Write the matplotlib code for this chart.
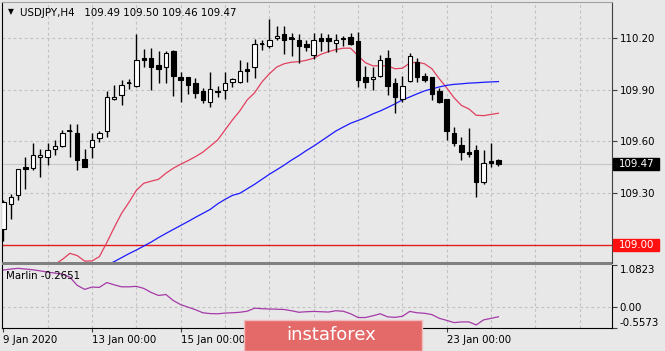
import numpy as np
import matplotlib.pyplot as plt
from matplotlib.patches import Rectangle
from matplotlib.transforms import blended_transform_factory

# --- DATA (USDJPY H4, one candle per index, 9 Jan 00:00 -> 24 Jan 04:00) ---
opens = [109.094, 109.236, 109.288, 109.453, 109.449, 109.509, 109.509, 109.559, 109.575, 109.661,
         109.650, 109.501, 109.569, 109.617, 109.660, 109.844, 109.867, 109.939, 109.923, 110.082,
         110.082, 110.039, 110.028, 110.120, 109.971, 109.971, 109.940, 109.894, 109.830, 109.894,
         109.898, 109.944, 109.946, 110.011, 110.028, 110.166, 110.150, 110.196, 110.220, 110.195,
         110.188, 110.165, 110.101, 110.198, 110.198, 110.167, 110.200, 110.204, 110.179, 109.973,
         109.960, 109.979, 110.082, 109.937, 109.844, 109.948, 110.062, 109.979, 109.971, 109.894,
         109.844, 109.650, 109.578, 109.538, 109.549, 109.365, 109.489, 109.490]
highs = [109.260, 109.294, 109.443, 109.511, 109.588, 109.559, 109.588, 109.607, 109.666, 109.698,
         109.698, 109.559, 109.646, 109.660, 109.892, 109.927, 109.956, 109.960, 110.223, 110.134,
         110.140, 110.120, 110.120, 110.126, 110.004, 109.971, 109.966, 109.908, 110.004, 109.921,
         110.000, 109.966, 110.072, 110.062, 110.192, 110.188, 110.305, 110.270, 110.266, 110.227,
         110.221, 110.188, 110.227, 110.227, 110.221, 110.221, 110.207, 110.227, 110.233, 110.035,
         110.033, 110.101, 110.130, 109.966, 109.979, 110.111, 110.082, 109.995, 109.975, 109.907,
         109.844, 109.685, 109.627, 109.675, 109.578, 109.549, 109.592, 109.500]
lows = [109.027, 109.152, 109.259, 109.327, 109.437, 109.395, 109.466, 109.520, 109.569, 109.511,
        109.437, 109.453, 109.507, 109.598, 109.627, 109.840, 109.811, 109.902, 109.917, 110.028,
        109.898, 109.937, 109.937, 109.863, 109.830, 109.875, 109.849, 109.820, 109.797, 109.855,
        109.844, 109.917, 109.937, 109.946, 109.966, 110.130, 110.142, 110.188, 110.105, 110.091,
        110.053, 110.124, 110.078, 110.124, 110.115, 110.117, 110.150, 110.159, 109.917, 109.907,
        109.898, 109.971, 109.869, 109.762, 109.830, 109.946, 109.946, 109.946, 109.840, 109.824,
        109.611, 109.573, 109.491, 109.511, 109.278, 109.356, 109.453, 109.460]
closes = [109.249, 109.278, 109.439, 109.441, 109.520, 109.522, 109.548, 109.573, 109.650, 109.658,
          109.491, 109.453, 109.611, 109.646, 109.855, 109.859, 109.925, 109.937, 110.072, 110.068,
          110.028, 110.016, 110.111, 109.979, 109.956, 109.927, 109.878, 109.840, 109.904, 109.888,
          109.940, 109.960, 110.008, 110.009, 110.165, 110.164, 110.188, 110.212, 110.188, 110.193,
          110.150, 110.144, 110.188, 110.183, 110.180, 110.188, 110.190, 110.165, 109.956, 109.946,
          109.971, 110.068, 109.921, 109.855, 109.921, 110.093, 109.971, 109.956, 109.874, 109.830,
          109.660, 109.588, 109.536, 109.526, 109.365, 109.476, 109.476, 109.470]

red_ma = [108.870, 108.890, 108.900, 108.885, 108.875, 108.870, 108.875, 108.890, 108.918, 108.953,
          108.940, 108.908, 108.909, 108.934, 109.015, 109.102, 109.184, 109.248, 109.317, 109.358,
          109.370, 109.381, 109.416, 109.445, 109.468, 109.489, 109.512, 109.538, 109.573, 109.608,
          109.666, 109.724, 109.776, 109.840, 109.881, 109.944, 109.991, 110.030, 110.049, 110.058,
          110.061, 110.069, 110.081, 110.104, 110.119, 110.131, 110.139, 110.139, 110.095, 110.055,
          110.037, 110.037, 110.037, 110.020, 110.023, 110.053, 110.058, 110.049, 110.020, 109.962,
          109.910, 109.852, 109.808, 109.788, 109.751, 109.749, 109.756, 109.763]
blue_ma = [None, None, None, None, None, None, None, None, None, None,
           None, None, None, 108.865, 108.885, 108.905, 108.928, 108.951, 108.972, 108.995,
           109.018, 109.044, 109.068, 109.091, 109.114, 109.137, 109.161, 109.184, 109.207, 109.239,
           109.265, 109.288, 109.300, 109.326, 109.352, 109.381, 109.410, 109.436, 109.463, 109.492,
           109.518, 109.547, 109.573, 109.602, 109.631, 109.660, 109.683, 109.705, 109.721, 109.738,
           109.759, 109.776, 109.796, 109.817, 109.840, 109.857, 109.875, 109.892, 109.904, 109.915,
           109.924, 109.930, 109.933, 109.937, 109.939, 109.942, 109.944, 109.946]
marlin = [0.950, 0.977, 0.995, 0.977, 0.958, 0.929, 0.897, 0.871, 0.844, 0.765,
          0.553, 0.448, 0.508, 0.500, 0.625, 0.567, 0.514, 0.514, 0.527, 0.474,
          0.368, 0.289, 0.315, 0.157, 0.051, -0.015, -0.081, -0.161, -0.182, -0.187,
          -0.169, -0.161, -0.148, -0.121, -0.042, -0.055, -0.063, -0.068, -0.076, -0.108,
          -0.148, -0.134, -0.126, -0.134, -0.142, -0.108, -0.121, -0.187, -0.285, -0.285,
          -0.240, -0.187, -0.267, -0.280, -0.253, -0.126, -0.161, -0.174, -0.208, -0.306,
          -0.359, -0.417, -0.399, -0.399, -0.478, -0.346, -0.306, -0.2651]

# 17 Jan and 21 Jan sit under the watermark, so only their tick marks show
date_ticks = [0, 12, 24, 36, 48, 60]
date_labels = ["9 Jan 2020", "13 Jan 00:00", "15 Jan 00:00", "", "", "23 Jan 00:00"]
price_ticks = [109.30, 109.60, 109.90, 110.20]
level_price = 109.00
last_price = 109.47
marlin_ticks = [1.0823, 0.00, -0.5573]
marlin_labels = ["1.0823", "0.00", "-0.5573"]
title = "USDJPY,H4   109.49 109.50 109.46 109.47"
marlin_title = "Marlin -0.2651"

# --- STYLE ---
BG = "#e8e8e8"
GRID = "#c2c2c2"
W, H = 665, 351
FS = 7.4


def frac(x0, y0, x1, y1):
    return [x0 / W, 1 - y1 / H, (x1 - x0) / W, (y1 - y0) / H]


fig = plt.figure(figsize=(W / 100, H / 100), dpi=100, facecolor=BG)
ax = fig.add_axes(frac(2, 2, 612, 262.5), facecolor=BG)
ax2 = fig.add_axes(frac(2, 265, 612, 328), facecolor=BG)

x = np.arange(len(opens))
o, h, l, c = (np.array(v, dtype=float) for v in (opens, highs, lows, closes))
up = c >= o
body_lo = np.minimum(o, c)
body_h = np.abs(c - o)
doji = body_h < 0.006

# --- PRICE PANEL ---
for g in range(6, 84, 6):
    ax.axvline(g, color=GRID, lw=0.8, ls=(0, (2.5, 2.5)), zorder=0)
    ax2.axvline(g, color=GRID, lw=0.8, ls=(0, (2.5, 2.5)), zorder=0)
for p in price_ticks:
    ax.axhline(p, color=GRID, lw=0.8, ls=(0, (2.5, 2.5)), zorder=0)
ax.axhline(last_price, color="#c6c6c6", lw=0.8, zorder=1)
ax.axhline(level_price, color="#e41e1e", lw=1.0, zorder=1)

ax.plot(x, red_ma, color="#e2405e", lw=0.9, zorder=2)
ax.plot(x, np.array(blue_ma, dtype=float), color="#1a1aff", lw=0.9, zorder=2)

ax.vlines(x, l, h, color="black", lw=1.0, zorder=3)
ax.bar(x[up], body_h[up], bottom=body_lo[up], width=0.6, facecolor="white",
       edgecolor="black", lw=0.8, zorder=4)
ax.bar(x[~up], body_h[~up], bottom=body_lo[~up], width=0.6, facecolor="black",
       edgecolor="black", lw=0.8, zorder=4)
ax.hlines(o[doji], x[doji] - 0.32, x[doji] + 0.32, color="black", lw=1.3, zorder=5)

ax.set_xlim(-0.18, 82.37)
ax.set_ylim(108.90, 110.406)
ax.yaxis.tick_right()
ax.set_yticks(price_ticks)
ax.set_yticklabels([f"{p:.2f}" for p in price_ticks])
ax.tick_params(axis="y", length=3.5, width=0.8, pad=2, labelsize=FS, color="#404040")
ax.tick_params(axis="x", bottom=False, labelbottom=False)
ax.spines["left"].set_color("black")
ax.spines["right"].set_color("#404040")
ax.spines["top"].set_color("#a0a0a0")
ax.spines["bottom"].set_visible(False)

# price label boxes on the right scale
trans = blended_transform_factory(fig.transFigure, ax.transData)
box_h = 12.3 / (260.5 / (110.406 - 108.90))
for val, fc in [(last_price, "black"), (level_price, "#ff1010")]:
    ax.add_patch(Rectangle((613 / W, val - box_h / 2), 46 / W, box_h, transform=trans,
                           facecolor=fc, edgecolor=fc, clip_on=False, zorder=6))
    ax.text(637 / W, val, f"{val:.2f}", transform=trans, ha="center", va="center",
            color="white", fontsize=FS, clip_on=False, zorder=7)

# --- MARLIN PANEL ---
ax2.axhline(0, color=GRID, lw=0.8, ls=(0, (2.5, 2.5)), zorder=0)
ax2.plot(x, marlin, color="#a53aa8", lw=0.9, zorder=2)
ax2.set_xlim(-0.18, 82.37)
ax2.set_ylim(-0.5573, 1.0823)
ax2.yaxis.tick_right()
ax2.set_yticks(marlin_ticks)
ax2.set_yticklabels(marlin_labels)
ax2.tick_params(axis="y", length=3.5, width=0.8, pad=2, labelsize=FS, color="#404040")
yl = ax2.get_yticklabels()
yl[0].set_va("top")
yl[-1].set_va("bottom")
ax2.set_xticks(date_ticks)
ax2.set_xticklabels(date_labels)
ax2.tick_params(axis="x", length=3, width=0.8, pad=2, labelsize=FS, color="#404040")
for t in ax2.get_xticklabels():
    t.set_ha("left")
for s in ["left", "right", "bottom"]:
    ax2.spines[s].set_color("black")
ax2.spines["top"].set_visible(False)

# separator between panels
fig.add_artist(Rectangle((2 / W, 1 - 265.3 / H), 610 / W, 3.3 / H, transform=fig.transFigure,
                         facecolor="#808080", edgecolor="none", zorder=5))

# --- TEXTS ---
fig.text(10.5 / W, 1 - 12 / H, "\u25bc", fontsize=5.5, ha="center", va="center")
fig.text(20 / W, 1 - 12.5 / H, title, fontsize=FS, va="center")
fig.text(6 / W, 1 - 275.7 / H, marlin_title, fontsize=FS, va="center", zorder=6)

# watermark
fig.add_artist(Rectangle((244 / W, 0), 178 / W, 31 / H, transform=fig.transFigure,
                         facecolor="#e46a6a", edgecolor="#f0bcbc", lw=1, zorder=10))
fig.text(331 / W, 1 - 335 / H, "instaforex", color="white", fontsize=13,
         ha="center", va="center", zorder=11)

plt.savefig("out.png", dpi=100, facecolor=BG)
